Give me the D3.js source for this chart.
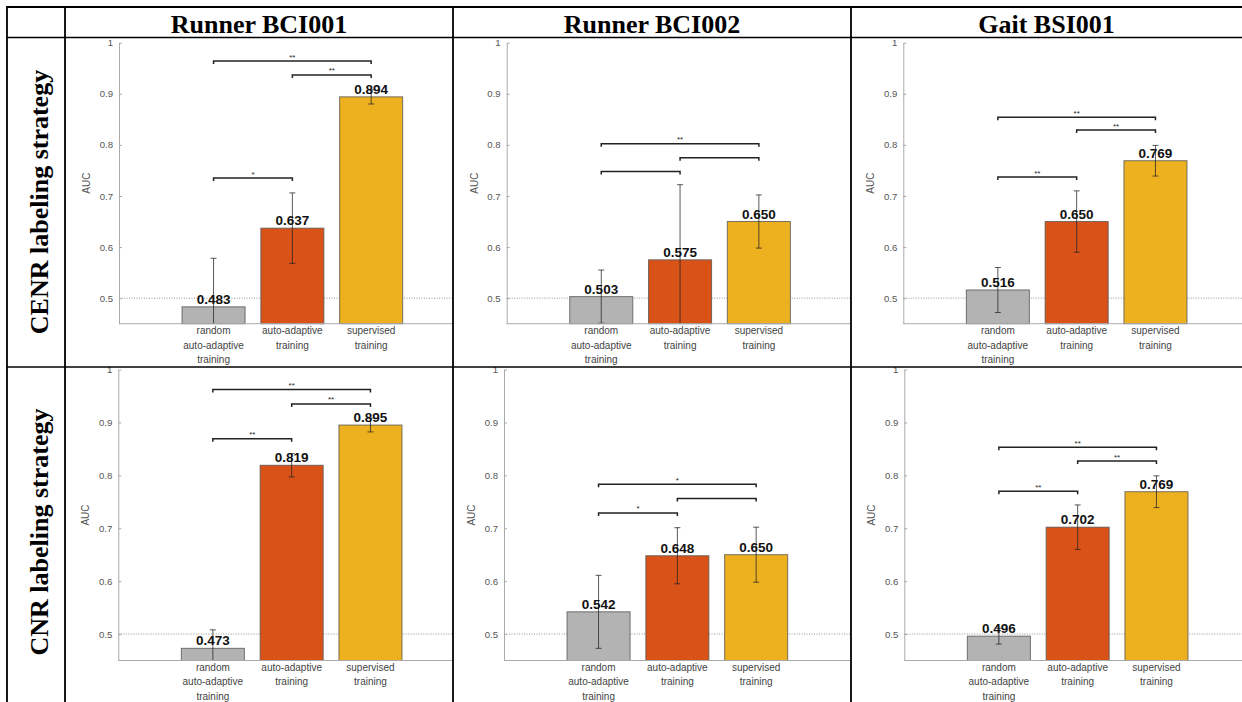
<!DOCTYPE html>
<html>
<head>
<meta charset="utf-8">
<script src="https://cdn.jsdelivr.net/npm/d3@7"></script>
<style>
  body { margin: 0; background: #fff; }
  svg { display: block; }
</style>
</head>
<body>
<div id="chart-container"></div>
<script>
const columnTitles = ["Runner BCI001", "Runner BCI002", "Gait BSI001"];
const rowTitles = ["CENR labeling strategy", "CNR labeling strategy"];
const categories = [
  ["random", "auto-adaptive", "training"],
  ["auto-adaptive", "training"],
  ["supervised", "training"]
];
const yTicks = [0.5, 0.6, 0.7, 0.8, 0.9, 1];
const chanceLevel = 0.5;

// mean AUC per panel: [row][column][category]
const meanAUC = [
  [[0.483, 0.637, 0.894], [0.503, 0.575, 0.650], [0.516, 0.650, 0.769]],
  [[0.473, 0.819, 0.895], [0.542, 0.648, 0.650], [0.496, 0.702, 0.769]]
];
// error bar half-length
const errAUC = [
  [[0.095, 0.069, 0.014], [0.052, 0.147, 0.052], [0.044, 0.060, 0.030]],
  [[0.035, 0.022, 0.013], [0.069, 0.053, 0.052], [0.015, 0.042, 0.030]]
];
// significance brackets: [from, to, height, stars]
const brackets = [
  [
    [[0, 2, 0.964, "**"], [1, 2, 0.937, "**"], [0, 1, 0.735, "*"]],
    [[0, 2, 0.802, "**"], [1, 2, 0.775, ""], [0, 1, 0.748, ""]],
    [[0, 2, 0.854, "**"], [1, 2, 0.829, "**"], [0, 1, 0.737, "**"]]
  ],
  [
    [[0, 2, 0.962, "**"], [1, 2, 0.935, "**"], [0, 1, 0.869, "**"]],
    [[0, 2, 0.783, "*"], [1, 2, 0.756, ""], [0, 1, 0.729, "*"]],
    [[0, 2, 0.853, "**"], [1, 2, 0.827, "**"], [0, 1, 0.770, "**"]]
  ]
];

const barColors = ["#b3b3b3", "#d95319", "#edb120"];

// table grid
const W = 1242, H = 702;
const colX = [7, 65, 453, 851, 1242];
const rowY = [7, 37, 367, 702];
// plot placement inside each cell
const plotTop = [5.7, 2.5];
const plotHeight = [281, 291];
const axisOffset = [[54, 53.7, 52.3], [53.3, 51, 53.3]];
const unit = 78.8;

const svg = d3
  .select("#chart-container")
  .append("svg")
  .attr("width", W)
  .attr("height", H);

const sans = "'Liberation Sans', Arial, Helvetica, sans-serif";
const serif = "'Liberation Serif', 'Times New Roman', serif";

const defs = svg.append("defs");

rowTitles.forEach((rowTitle, r) => {
  columnTitles.forEach((colTitle, c) => {
    const cellL = colX[c + 1];
    const cellR = colX[c + 2];
    const cellT = rowY[r + 1];
    const cellB = rowY[r + 2];

    const clipId = "clip-" + r + "-" + c;
    defs
      .append("clipPath")
      .attr("id", clipId)
      .append("rect")
      .attr("x", cellL)
      .attr("y", cellT + (r === 0 ? 3 : 0))
      .attr("width", cellR - cellL)
      .attr("height", cellB - cellT + 10);

    const g = svg.append("g").attr("clip-path", "url(#" + clipId + ")");

    const axisX = cellL + axisOffset[r][c];
    const top = cellT + plotTop[r];
    const base = top + plotHeight[r];

    const y = d3.scaleLinear().domain([0.45, 1]).range([base, top]);
    const x = d3
      .scaleLinear()
      .domain([-0.2, 4.3])
      .range([axisX, axisX + 4.5 * unit]);

    // chance level
    g.append("line")
      .attr("x1", axisX)
      .attr("x2", cellR)
      .attr("y1", y(chanceLevel))
      .attr("y2", y(chanceLevel))
      .attr("stroke", "#777")
      .attr("stroke-width", 0.8)
      .attr("stroke-dasharray", "1,1.5");

    const means = meanAUC[r][c];
    const errs = errAUC[r][c];
    const bw = 0.8;

    // bars
    g.append("g")
      .selectAll("rect")
      .data(means)
      .join("rect")
      .attr("x", (d, i) => x(i + 1 - bw / 2))
      .attr("width", x(bw) - x(0))
      .attr("y", (d) => y(d))
      .attr("height", (d) => base - y(d))
      .attr("fill", (d, i) => barColors[i])
      .attr("stroke", "#555")
      .attr("stroke-opacity", 0.8)
      .attr("stroke-width", 1);

    // error bars
    const eb = g
      .append("g")
      .selectAll("g")
      .data(means.map((m, i) => ({ m, e: errs[i], i })))
      .join("g")
      .attr("stroke", "#222")
      .attr("stroke-opacity", 0.75)
      .attr("stroke-width", 1);
    eb.append("line")
      .attr("x1", (d) => x(d.i + 1))
      .attr("x2", (d) => x(d.i + 1))
      .attr("y1", (d) => Math.min(base, y(d.m - d.e)))
      .attr("y2", (d) => y(d.m + d.e));
    eb.append("line")
      .attr("x1", (d) => x(d.i + 1) - 3)
      .attr("x2", (d) => x(d.i + 1) + 3)
      .attr("y1", (d) => y(d.m + d.e))
      .attr("y2", (d) => y(d.m + d.e));
    eb.filter((d) => y(d.m - d.e) < base)
      .append("line")
      .attr("x1", (d) => x(d.i + 1) - 3)
      .attr("x2", (d) => x(d.i + 1) + 3)
      .attr("y1", (d) => y(d.m - d.e))
      .attr("y2", (d) => y(d.m - d.e));

    // value labels
    g.append("g")
      .selectAll("text")
      .data(means)
      .join("text")
      .attr("x", (d, i) => x(i + 1))
      .attr("y", (d) => y(d) - 3)
      .attr("text-anchor", "middle")
      .attr("font-family", sans)
      .attr("font-weight", "bold")
      .attr("font-size", "13.5px")
      .attr("fill", "#111")
      .text((d) => d.toFixed(3));

    // significance brackets
    const br = g
      .append("g")
      .selectAll("g")
      .data(brackets[r][c])
      .join("g");
    br.append("path")
      .attr(
        "d",
        (d) =>
          "M" + x(d[0] + 1) + "," + (y(d[2]) + 3) +
          "V" + y(d[2]) +
          "H" + x(d[1] + 1) +
          "V" + (y(d[2]) + 3)
      )
      .attr("fill", "none")
      .attr("stroke", "#222")
      .attr("stroke-width", 1.5);
    br.append("text")
      .attr("x", (d) => (x(d[0] + 1) + x(d[1] + 1)) / 2)
      .attr("y", (d) => y(d[2]) - 1.5)
      .attr("text-anchor", "middle")
      .attr("font-family", sans)
      .attr("font-size", "8px")
      .attr("fill", "#222")
      .text((d) => d[3]);

    // y axis
    const yAxis = d3
      .axisLeft(y)
      .tickValues(yTicks)
      .tickSize(-3)
      .tickSizeOuter(0)
      .tickPadding(6)
      .tickFormat((d) => (d === 1 ? "1" : d.toFixed(1)));
    const ya = g
      .append("g")
      .attr("transform", "translate(" + axisX + ",0)")
      .call(yAxis);
    ya.selectAll("path, line").attr("stroke", "#aaa");
    ya.selectAll("text")
      .attr("fill", "#555")
      .attr("font-family", sans)
      .attr("font-size", "9.6px");

    // x axis baseline
    g.append("line")
      .attr("x1", axisX)
      .attr("x2", cellR)
      .attr("y1", base)
      .attr("y2", base)
      .attr("stroke", "#aaa")
      .attr("stroke-width", 1);

    // category labels
    const cl = g
      .append("g")
      .selectAll("text")
      .data(categories)
      .join("text")
      .attr("x", (d, i) => x(i + 1))
      .attr("y", base + 10.5)
      .attr("text-anchor", "middle")
      .attr("font-family", sans)
      .attr("font-size", "10px")
      .attr("fill", "#444");
    cl.selectAll("tspan")
      .data((d) => d)
      .join("tspan")
      .attr("x", function () {
        return d3.select(this.parentNode).attr("x");
      })
      .attr("dy", (d, i) => (i === 0 ? 0 : 14.3))
      .text((d) => d);

    // y label
    g.append("text")
      .attr(
        "transform",
        "translate(" + (axisX - 29) + "," + (top + base) / 2 + ") rotate(-90)"
      )
      .attr("text-anchor", "middle")
      .attr("font-family", sans)
      .attr("font-size", "10px")
      .attr("fill", "#555")
      .text("AUC");
  });
});

// column headers
svg
  .append("g")
  .selectAll("text")
  .data(columnTitles)
  .join("text")
  .attr("x", (d, i) => (colX[i + 1] + colX[i + 2]) / 2)
  .attr("y", 33)
  .attr("text-anchor", "middle")
  .attr("font-family", serif)
  .attr("font-weight", "bold")
  .attr("font-size", "26px")
  .attr("fill", "#000")
  .text((d) => d);

// row headers
const rowCenters = [202, 532];
svg
  .append("g")
  .selectAll("text")
  .data(rowTitles)
  .join("text")
  .attr("transform", (d, i) => "translate(48," + rowCenters[i] + ") rotate(-90)")
  .attr("text-anchor", "middle")
  .attr("font-family", serif)
  .attr("font-weight", "bold")
  .attr("font-size", "26px")
  .attr("fill", "#000")
  .text((d) => d);

// table grid lines
const grid = svg.append("g").attr("stroke", "#000");
[7, 37.5, 367].forEach((yy, i) => {
  grid
    .append("line")
    .attr("x1", 7)
    .attr("x2", W)
    .attr("y1", yy)
    .attr("y2", yy)
    .attr("stroke-width", i === 0 ? 2.2 : 1.6);
});
colX.slice(0, 4).forEach((xx) => {
  grid
    .append("line")
    .attr("x1", xx)
    .attr("x2", xx)
    .attr("y1", 6)
    .attr("y2", H)
    .attr("stroke-width", 1.8);
});
</script>
</body>
</html>
